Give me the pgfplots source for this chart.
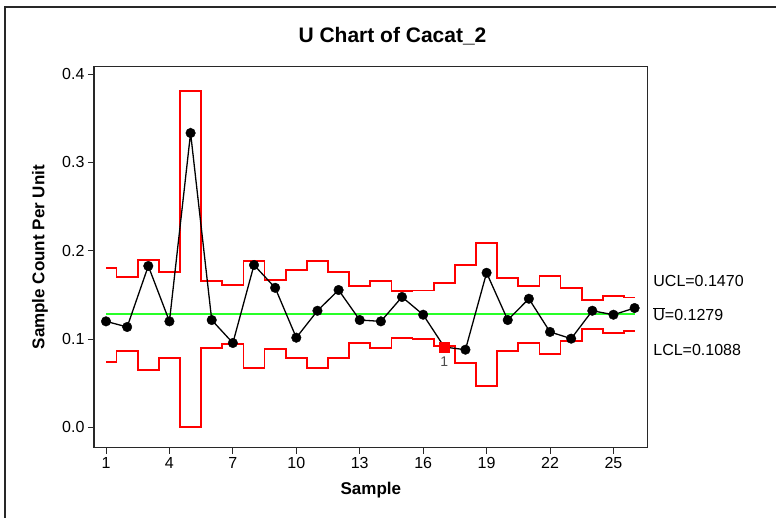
\documentclass[border=0pt]{standalone}
\usepackage{pgfplots}
\pgfplotsset{compat=1.18}
\usepackage{pgfplotstable}
\usepackage{fontspec}
\setmainfont{Liberation Sans}

\definecolor{ctlred}{RGB}{255,0,0}
\definecolor{ctlgreen}{RGB}{40,255,40}
\definecolor{frame}{RGB}{40,40,40}

% sample, defects per unit, upper and lower control limits
\pgfplotstableread{
s  u       ucl     lcl
1  0.1200  0.1808  0.0740
2  0.1136  0.1706  0.0864
3  0.1827  0.1898  0.0652
4  0.1200  0.1762  0.0788
5  0.3333  0.3809  0.0000
6  0.1215  0.1657  0.0895
7  0.0955  0.1615  0.0940
8  0.1838  0.1887  0.0668
9  0.1580  0.1672  0.0883
10 0.1015  0.1781  0.0788
11 0.1320  0.1887  0.0668
12 0.1555  0.1762  0.0788
13 0.1215  0.1597  0.0955
14 0.1200  0.1657  0.0895
15 0.1476  0.1540  0.1015
16 0.1275  0.1550  0.1004
17 0.0909  0.1631  0.0924
18 0.0879  0.1842  0.0725
19 0.1750  0.2084  0.0471
20 0.1215  0.1691  0.0864
21 0.1456  0.1597  0.0955
22 0.1080  0.1717  0.0830
23 0.1004  0.1581  0.0974
24 0.1320  0.1442  0.1110
25 0.1275  0.1487  0.1064
26 0.1351  0.1470  0.1088
}\udata

\begin{document}
\begin{tikzpicture}[x=1pt,y=1pt]
\useasboundingbox (0,0) rectangle (776,517);
% outer graph frame
\draw[frame, line width=2pt] (5,-5) -- (5,510) -- (790,510);
\begin{axis}[
  at={(94pt,69.3pt)}, anchor=south west,
  scale only axis, width=553.7pt, height=381pt,
  xmin=0.432, xmax=26.62, ymin=-0.0231, ymax=0.4084,
  xtick={1,4,...,25},
  ytick={0,0.1,0.2,0.3,0.4},
  yticklabel style={/pgf/number format/fixed, /pgf/number format/fixed zerofill, /pgf/number format/precision=1},
  /pgf/number format/assume math mode=true,
  tick align=outside, tick pos=left,
  major tick length=6pt,
  tick style={frame, line width=1pt},
  axis line style={frame, line width=1.4pt},
  ticklabel style={font=\fontsize{16}{18}\selectfont, black},
  clip=false,
  title={U Chart of Cacat\_2},
  title style={font=\fontsize{21}{24}\selectfont\bfseries, at={(rel axis cs:0.5391,1.0483)}, anchor=base},
  xlabel={Sample},
  xlabel style={font=\fontsize{17}{20}\selectfont\bfseries, at={(axis description cs:0.5,-0.111)}, anchor=center},
  ylabel={Sample Count Per Unit},
  ylabel style={font=\fontsize{17}{20}\selectfont\bfseries, at={(axis description cs:-0.0975,0.5)}, anchor=center},
]
% control limits
\addplot[ctlred, line width=1.8pt, const plot mark mid] table[x=s, y=ucl] {\udata};
\addplot[ctlred, line width=1.8pt, const plot mark mid] table[x=s, y=lcl] {\udata};
% centre line
\addplot[ctlgreen, line width=1.8pt] coordinates {(1,0.1279) (26,0.1279)};
% sample statistics
\addplot[black, line width=1.3pt] table[x=s, y=u] {\udata};
\addplot[only marks, mark=*, mark size=4.8pt, black,
  x filter/.expression={x==17 ? nan : x}] table[x=s, y=u] {\udata};
% point beyond the lower limit (test 1)
\addplot[only marks, mark=square*, mark size=5pt, ctlred] coordinates {(17,0.0909)};
\node[font=\fontsize{14}{16}\selectfont, text=black!70] at (axis cs:17,0.0909) [yshift=-15pt] {1};
% limit labels
\node[anchor=west, font=\fontsize{16}{18}\selectfont, inner sep=0pt] at (axis cs:26.62,0.1470) [xshift=5.5pt, yshift=17pt] {UCL=0.1470};
\node[anchor=west, font=\fontsize{16}{18}\selectfont, inner sep=0pt] at (axis cs:26.62,0.1279) [xshift=5.5pt, yshift=0pt] {\(\overline{\mbox{U}}\)=0.1279};
\node[anchor=west, font=\fontsize{16}{18}\selectfont, inner sep=0pt] at (axis cs:26.62,0.1088) [xshift=5.5pt, yshift=-19pt] {LCL=0.1088};
\end{axis}
\end{tikzpicture}
\end{document}
